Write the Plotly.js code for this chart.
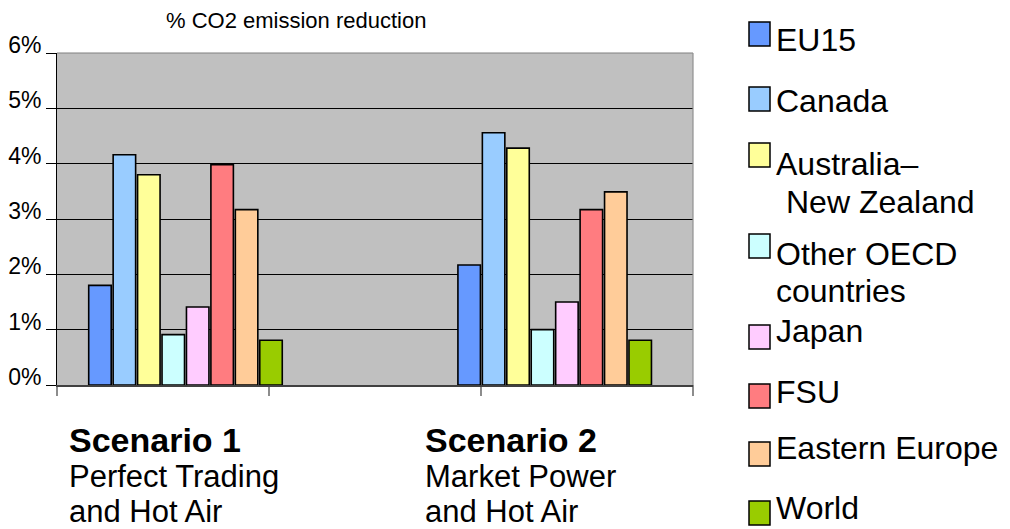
<!DOCTYPE html>
<html>
<head>
<meta charset="utf-8">
<script src="https://cdn.plot.ly/plotly-3.0.1.min.js"></script>
<style>
  html, body { margin: 0; padding: 0; background: #fff; overflow: hidden; }
  #chart { width: 1010px; height: 529px; }
</style>
</head>
<body>
<div id="chart"></div>
<script>
// ---- data ----
const categories = ['Scenario 1', 'Scenario 2'];
const categoryLines = [
  ['Scenario 1', 'Perfect Trading', 'and Hot Air'],
  ['Scenario 2', 'Market Power', 'and Hot Air']
];
const seriesNames = ['EU15', 'Canada', 'Australia–New Zealand', 'Other OECD countries', 'Japan', 'FSU', 'Eastern Europe', 'World'];
const legendLines = [['EU15'], ['Canada'], ['Australia–', 'New Zealand'], ['Other OECD', 'countries'], ['Japan'], ['FSU'], ['Eastern Europe'], ['World']];
const eu15        = [1.8, 2.17];
const canada      = [4.16, 4.56];
const ausNz       = [3.8, 4.28];
const otherOecd   = [0.91, 1.0];
const japan       = [1.41, 1.5];
const fsu         = [3.98, 3.17];
const easternEur  = [3.17, 3.49];
const world       = [0.81, 0.81];
const yTickVals   = [0, 1, 2, 3, 4, 5, 6];
const yTickText   = ['0%', '1%', '2%', '3%', '4%', '5%', '6%'];
const titleText   = '% CO2 emission reduction';

// ---- styles ----
const colors = ['#6699FF', '#99CCFF', '#FFFF99', '#CCFFFF', '#FFCCFF', '#FF7C80', '#FFCC99', '#99CC00'];
const seriesValues = [eu15, canada, ausNz, otherOecd, japan, fsu, easternEur, world];
const FONT = '"Liberation Sans", Arial, Helvetica, sans-serif';

const M = { l: 57, r: 317, t: 53, b: 144 };
const PW = 1010 - M.l - M.r, PH = 529 - M.t - M.b;
const pxX = px => (px - M.l) / PW;
const pxY = py => (529 - M.b - py) / PH;

const traces = seriesNames.map((n, i) => ({
  type: 'bar',
  name: n,
  x: categories,
  y: seriesValues[i],
  marker: { color: colors[i], line: { color: '#000', width: 1.6 } },
  showlegend: false,
  hoverinfo: 'name+y'
}));

const annotations = [];
const shapes = [];

// category labels under the axis
const catLeft = [68, 424];
const catLineY = [440, 476.5, 511.5];
const catFont = [34, 31, 31];
categoryLines.forEach((lines, c) => {
  lines.forEach((t, k) => {
    annotations.push({
      xref: 'paper', yref: 'paper', x: pxX(catLeft[c]), y: pxY(catLineY[k]),
      xanchor: 'left', yanchor: 'middle', showarrow: false, borderpad: 0,
      text: k === 0 ? '<b>' + t + '</b>' : t,
      font: { family: FONT, size: catFont[k], color: '#000' }
    });
  });
});

// legend (boxes + labels)
const LEG_FONT = 32;
const legSquareY = [34, 99, 155, 246, 337, 396, 454, 513];
const legTextY = [40, 101, 164, 254, 331, 392, 448, 508];
const legSecondY = { 2: 202, 3: 291 };
const legSecondX = { 2: 785, 3: 775 };
legendLines.forEach((lines, i) => {
  shapes.push({
    type: 'rect', xref: 'paper', yref: 'paper',
    x0: pxX(749), x1: pxX(770), y0: pxY(legSquareY[i] + 12), y1: pxY(legSquareY[i] - 12),
    fillcolor: colors[i], line: { color: '#000', width: 1.5 }, layer: 'above'
  });
  annotations.push({
    xref: 'paper', yref: 'paper', x: pxX(775), y: pxY(legTextY[i]),
    xanchor: 'left', yanchor: 'middle', showarrow: false, borderpad: 0,
    text: lines[0], font: { family: FONT, size: LEG_FONT, color: '#000' }
  });
  if (lines[1]) {
    annotations.push({
      xref: 'paper', yref: 'paper', x: pxX(legSecondX[i]), y: pxY(legSecondY[i]),
      xanchor: 'left', yanchor: 'middle', showarrow: false, borderpad: 0,
      text: lines[1], font: { family: FONT, size: LEG_FONT, color: '#000' }
    });
  }
});

// x-axis tick marks (category dividers)
[0, 1 / 3, 2 / 3, 1].forEach(p => {
  shapes.push({
    type: 'line', xref: 'paper', yref: 'paper', x0: p, x1: p, y0: 0, y1: pxY(396),
    line: { color: '#404040', width: 1.2 }
  });
});
// plot frame top / right (gray)
shapes.push({ type: 'line', xref: 'paper', yref: 'paper', x0: 0, x1: 1, y0: 1, y1: 1, line: { color: '#808080', width: 1.2 }, layer: 'above' });
shapes.push({ type: 'line', xref: 'paper', yref: 'paper', x0: 1, x1: 1, y0: 0, y1: 1, line: { color: '#909090', width: 1.2 }, layer: 'above' });

const layout = {
  width: 1010, height: 529,
  margin: M,
  paper_bgcolor: '#ffffff',
  plot_bgcolor: '#C0C0C0',
  font: { family: FONT, color: '#000' },
  title: {
    text: titleText, font: { family: FONT, size: 22, color: '#000' },
    xref: 'container', yref: 'container', x: 166 / 1010, xanchor: 'left',
    y: 1 - 20 / 529, yanchor: 'middle'
  },
  barmode: 'group',
  bargap: 0.4705,
  bargroupgap: 0.08,
  showlegend: false,
  xaxis: {
    type: 'category',
    range: [-0.348, 1.3746],
    showticklabels: false, ticks: '',
    showgrid: false, zeroline: false,
    showline: true, linecolor: '#404040', linewidth: 2,
    fixedrange: true
  },
  yaxis: {
    range: [0, 6],
    tickmode: 'array', tickvals: yTickVals, ticktext: yTickText,
    ticks: 'outside', ticklen: 10, tickcolor: '#000', tickwidth: 1,
    ticklabelstandoff: 0, ticklabelshift: -8,
    tickfont: { family: FONT, size: 23, color: '#000' },
    showgrid: true, gridcolor: '#000', gridwidth: 1,
    zeroline: false,
    showline: true, linecolor: '#000', linewidth: 1,
    fixedrange: true
  },
  annotations: annotations,
  shapes: shapes
};

Plotly.newPlot('chart', traces, layout, { staticPlot: true, displayModeBar: false });
</script>
</body>
</html>
